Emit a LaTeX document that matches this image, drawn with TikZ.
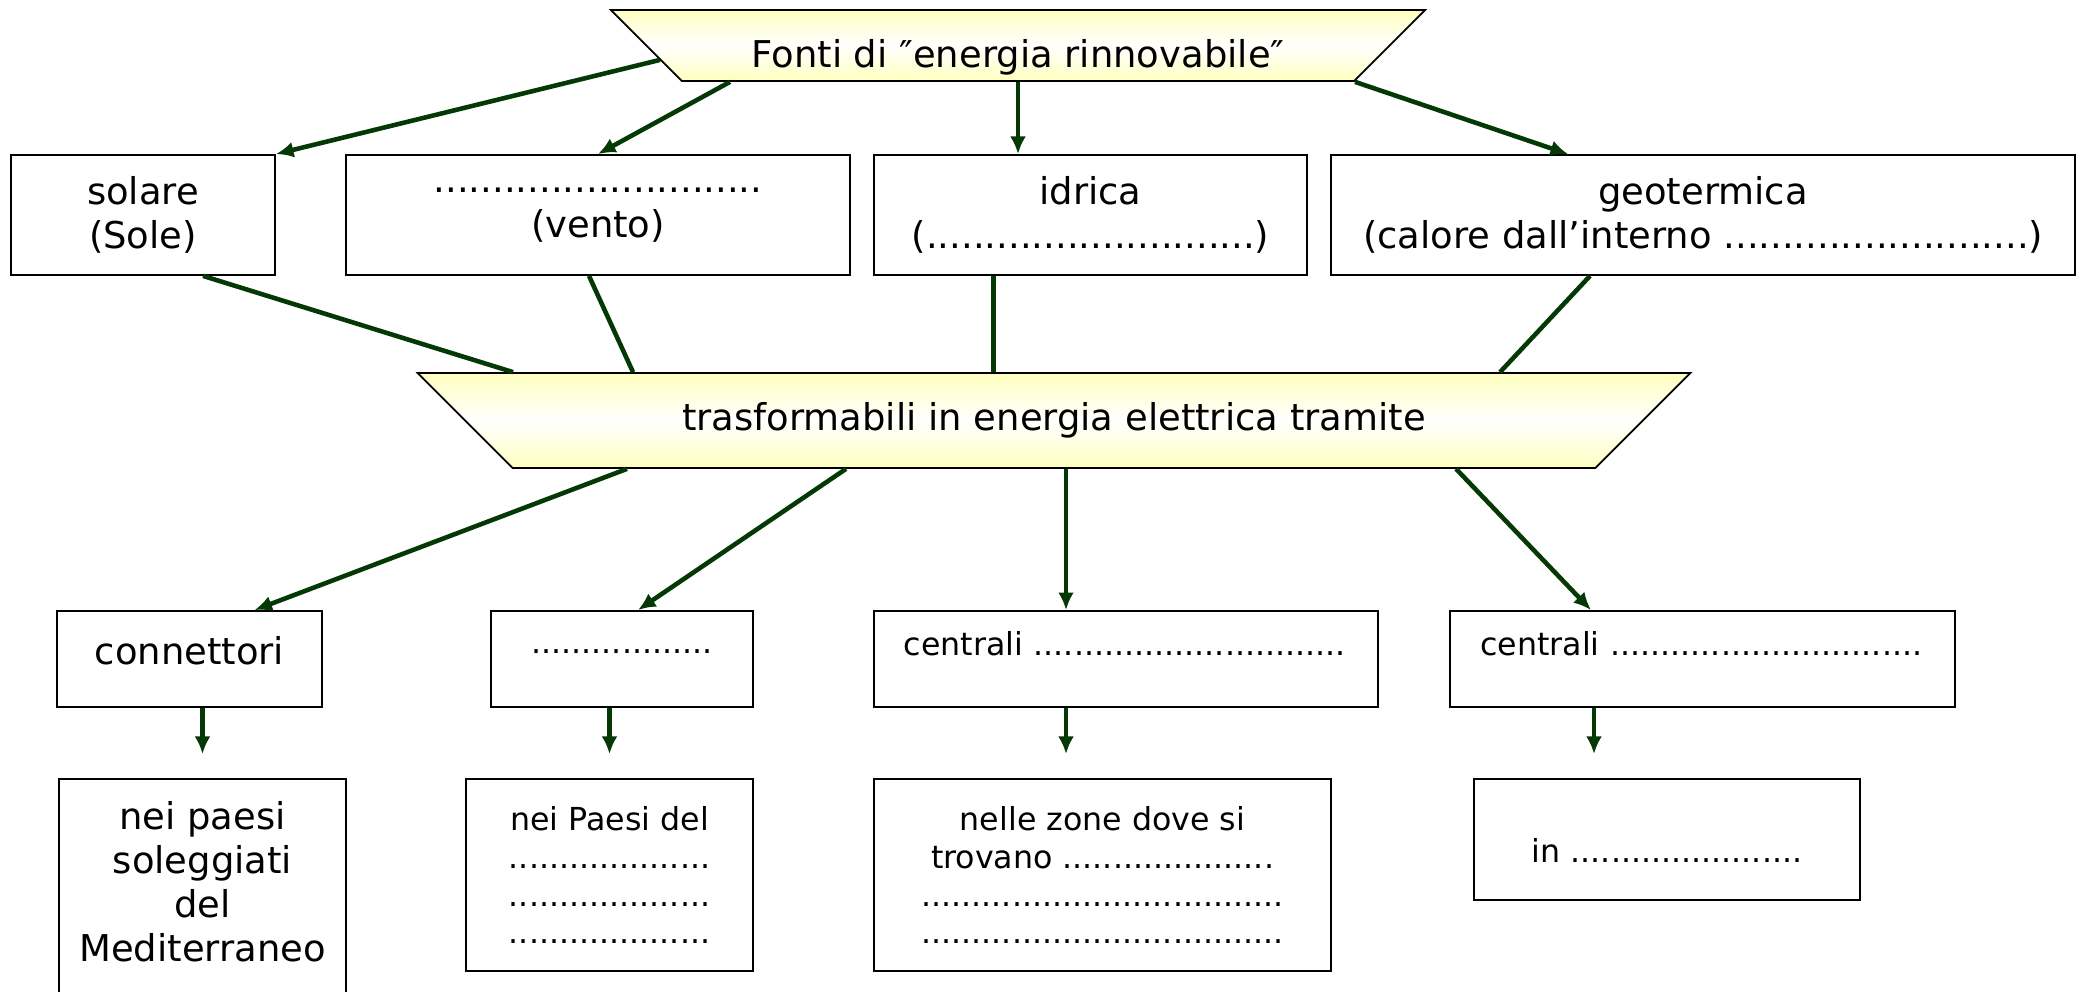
\documentclass[tikz,border=0pt]{standalone}
\usepackage{fontspec}
\setmainfont{DejaVu Sans}
\usetikzlibrary{shapes.geometric, % for the trapezia
                calc, % for shifted connector ends
                arrows.meta}
\definecolor{arrowgreen}{RGB}{4,56,4}

\begin{document}
\begin{tikzpicture}[x=0.01cm, y=-0.01cm,
                    box/.style={draw, line width=0.5pt, align=center, font=\fontsize{10.5}{12.6}\selectfont},
                    smallbox/.style={box, font=\fontsize{9}{10.8}\selectfont},
                    slab/.style={trapezium, trapezium stretches body, trapezium angle=45, shape border rotate=180,
                                 draw, line width=0.5pt, top color=yellow!25, bottom color=yellow!25, middle color=white,
                                 font=\fontsize{10.5}{12.6}\selectfont},
                    arr/.style={-{Latex[length=5pt,width=4.5pt]}, line width=1.3pt, arrowgreen},
                    link/.style={line width=1.3pt, arrowgreen}
                    ]
    \useasboundingbox (0,0) rectangle (2080,992);

    % SOURCE %
    \node[slab, minimum width=8.14cm, inner ysep=1.35pt, text height=15pt, text depth=2.5pt]
        (fonti) at (1018,45.5) {Fonti di ″energia rinnovabile″};

    % SOURCES ROW %
    \node[box, minimum width=2.64cm, minimum height=1.2cm] (solare) at (143,215) {solare\\(Sole)};
    \node[box, minimum width=5.04cm, minimum height=1.2cm] (vento) at (598,215) {............................\\(vento)};
    \node[box, minimum width=4.33cm, minimum height=1.2cm] (idrica) at (1090.5,215) {idrica\\(............................)};
    \node[box, minimum width=7.44cm, minimum height=1.2cm] (geo) at (1703,215) {geotermica\\(calore dall’interno ..........................)};

    % TRANSFORMATION %
    \node[slab, minimum width=12.72cm, inner ysep=8.25pt, text height=8pt, text depth=2.5pt]
        (trasf) at (1054,420.5) {trasformabili in energia elettrica tramite};

    % MEANS ROW %
    \node[box, minimum width=2.65cm, minimum height=0.96cm, text height=8pt, text depth=5pt] (conn) at (189.5,659) {connettori};
    \node[smallbox, minimum width=2.62cm, minimum height=0.96cm, text height=8pt, text depth=11pt] (punti) at (622,659) {..................};
    \node[smallbox, minimum width=5.04cm, minimum height=0.96cm, text width=4.44cm, align=left, text height=8pt, text depth=10pt]
        (cen1) at (1126,659) {centrali ...............................};
    \node[smallbox, minimum width=5.05cm, minimum height=0.96cm, text width=4.44cm, align=left, text height=8pt, text depth=10pt]
        (cen2) at (1702.5,659) {centrali ...............................};

    % PLACES ROW %
    \node[box, minimum width=2.87cm, minimum height=2.26cm, text depth=6pt] (paesi) at (202.5,892) {nei paesi\\soleggiati\\del\\Mediterraneo};
    \node[smallbox, minimum width=2.87cm, minimum height=1.92cm] (paesidel) at (609.5,875)
        {nei Paesi del\\....................\\....................\\....................};
    \node[smallbox, minimum width=4.57cm, minimum height=1.92cm] (zone) at (1102.5,875)
        {nelle zone dove si\\trovano .....................\\....................................\\....................................};
    \node[smallbox, minimum width=3.86cm, minimum height=1.21cm, text height=13pt, text depth=0pt] (inbox) at (1667,839.5) {in .......................};

    % FROM THE SOURCE %
    \draw[arr] ($(fonti.270)+(-358,-22)$) -- (solare.north east);
    \draw[arr] ($(fonti.270)+(-288,0)$) -- (vento.north);
    \draw[arr] (fonti.270) -- (fonti.270 |- idrica.north);
    \draw[arr] ($(fonti.270)+(337,0)$) -- ($(geo.north)+(-135,0)$);

    % INTO THE TRANSFORMATION %
    \draw[link] ($(solare.south)+(60,0)$) -- ($(trasf.90)+(-541,0)$);
    \draw[link] ($(vento.south)+(-9,0)$) -- ($(trasf.90)+(-421,0)$);
    \draw[link] ($(idrica.south)+(-97,0)$) -- ($(idrica.south |- trasf.90)+(-97,0)$);
    \draw[link] ($(geo.south)+(-113,0)$) -- ($(trasf.90)+(446,0)$);

    % OUT OF THE TRANSFORMATION %
    \draw[arr] ($(trasf.270)+(-427,0)$) -- ($(conn.north)+(65,0)$);
    \draw[arr] ($(trasf.270)+(-208,0)$) -- ($(punti.north)+(16,0)$);
    \draw[arr] ($(cen1.north |- trasf.270)+(-60,0)$) -- ($(cen1.north)+(-60,0)$);
    \draw[arr] ($(trasf.270)+(402,0)$) -- ($(cen2.north)+(-111.5,0)$);

    % DOWN TO THE PLACES %
    \foreach \a/\b/\d in {conn/paesi/0, punti/paesidel/0, cen1/zone/-36.5, cen2/inbox/-73}
    \draw[arr, shorten >=0.24cm] ($(\b.north |- \a.south)+(\d,0)$) -- ($(\b.north)+(\d,0)$);
\end{tikzpicture}
\end{document}
